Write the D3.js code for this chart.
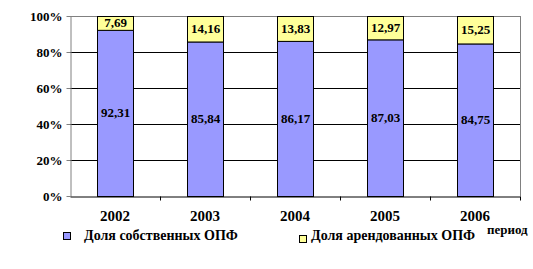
<!DOCTYPE html>
<html>
<head>
<meta charset="utf-8">
<script src="https://cdn.jsdelivr.net/npm/d3@7"></script>
<style>
  body { margin: 0; background: #fff; }
</style>
</head>
<body>
<svg id="chart" width="533" height="269"></svg>
<script>
// data
const years = ['2002', '2003', '2004', '2005', '2006'];
const own = [92.31, 85.84, 86.17, 87.03, 84.75];
const leased = [7.69, 14.16, 13.83, 12.97, 15.25];
const yTicks = [0, 20, 40, 60, 80, 100];
const seriesNames = ['Доля собственных ОПФ', 'Доля арендованных ОПФ'];
const colors = ['#9999ff', '#ffff99'];

const svg = d3.select('#chart');
const m = { left: 70, top: 16, right: 520, bottom: 196 };

const x = d3.scaleBand().domain(years).range([m.left, m.right]).paddingInner(0.6).paddingOuter(0.3);
const xCat = d3.scaleBand().domain(years).range([m.left, m.right]);
const y = d3.scaleLinear().domain([0, 100]).range([m.bottom, m.top]);

function font(sel, size) {
  sel.style('font-family', '"Liberation Serif", "Times New Roman", serif')
    .style('font-weight', 'bold').style('font-size', size + 'px').attr('fill', '#000');
}

// gridlines
svg.append('g').selectAll('line').data(yTicks.filter(d => d > 0)).join('line')
  .attr('x1', m.left).attr('x2', m.right)
  .attr('y1', d => Math.round(y(d)) + 0.5).attr('y2', d => Math.round(y(d)) + 0.5)
  .attr('stroke', d => d === 100 ? '#808080' : '#000');

// right border of plot
svg.append('line').attr('x1', m.right + 0.5).attr('x2', m.right + 0.5)
  .attr('y1', m.top).attr('y2', m.bottom).attr('stroke', '#808080');

// stacked bars
const rows = years.map((yr, i) => ({ yr, own: own[i], leased: leased[i] }));
const stack = d3.stack().keys(['own', 'leased'])(rows);

const groups = svg.append('g').selectAll('g').data(stack).join('g')
  .attr('fill', (d, i) => colors[i]);
groups.selectAll('rect').data(d => d).join('rect')
  .attr('x', d => Math.round(x(d.data.yr)) + 0.5)
  .attr('width', x.bandwidth())
  .attr('y', d => y(d[1]) + 0.5)
  .attr('height', d => y(d[0]) - y(d[1]))
  .attr('stroke', '#000').attr('stroke-width', 1);

// value labels
groups.selectAll('text').data(d => d).join('text')
  .attr('x', d => x(d.data.yr) + x.bandwidth() / 2 + 0.5)
  .attr('y', d => (y(d[0]) + y(d[1])) / 2 + 4.5)
  .attr('text-anchor', 'middle')
  .call(font, 13)
  .text(d => (d[1] - d[0]).toFixed(2).replace('.', ','));

// y axis
const yAxis = svg.append('g').attr('transform', `translate(${m.left + 0.5},0)`)
  .call(d3.axisLeft(y).tickValues(yTicks).tickFormat(d => d + '%').tickSize(4).tickSizeOuter(0));
yAxis.select('.domain').attr('stroke', '#808080');
yAxis.selectAll('.tick line').attr('stroke', '#808080');
yAxis.selectAll('text').call(font, 13)
  .attr('x', -8).attr('dy', '0.35em');

// x axis
const xAxis = svg.append('g').attr('transform', `translate(0,${m.bottom + 0.5})`)
  .call(d3.axisBottom(xCat).tickSize(0).tickSizeOuter(0));
xAxis.select('.domain').attr('stroke', '#000');
xAxis.selectAll('text').call(font, 15)
  .attr('y', 14);
xAxis.append('g').selectAll('line').data(years.slice(1)).join('line')
  .attr('x1', d => Math.round(xCat(d)) + 0.5).attr('x2', d => Math.round(xCat(d)) + 0.5)
  .attr('y1', 0).attr('y2', 4).attr('stroke', '#000');
xAxis.append('line').attr('x1', m.right + 0.5).attr('x2', m.right + 0.5)
  .attr('y1', 0).attr('y2', 4).attr('stroke', '#000');

// legend
const legendX = [63, 299];
const legendBoxY = [232, 235];
const leg = svg.append('g').selectAll('g').data(seriesNames).join('g')
  .attr('transform', (d, i) => `translate(${legendX[i]},0)`);
leg.append('rect').attr('x', 0.5).attr('y', (d, i) => legendBoxY[i] + 0.5).attr('width', 7).attr('height', 7)
  .attr('fill', (d, i) => colors[i]).attr('stroke', '#000');
leg.append('text').attr('x', (d, i) => i === 0 ? 21 : 12).attr('y', 240)
  .call(font, 14)
  .text(d => d);

svg.append('text').attr('x', 487).attr('y', 234)
  .call(font, 13)
  .text('период');
</script>
</body>
</html>
